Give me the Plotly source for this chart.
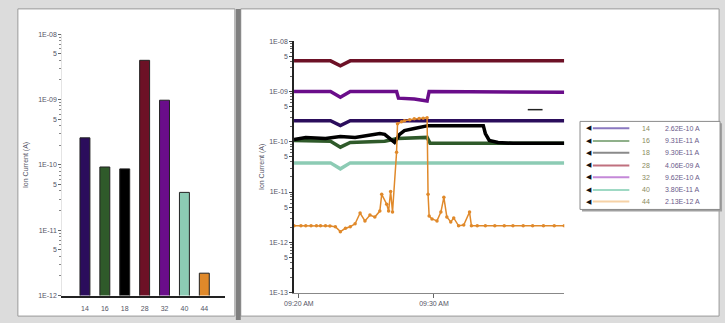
import plotly.graph_objects as go

W, H = 725, 323

# ---------------- data ----------------
masses = ["14", "16", "18", "28", "32", "40", "44"]
bar_values = [2.6e-10, 9.3e-11, 8.7e-11, 4.0e-9, 9.8e-10, 3.8e-11, 2.2e-12]
colors = ["#2b0d5c", "#2f5a2a", "#000000", "#6d1126", "#6a0d8a", "#8ccbb4", "#e0892a"]
legend_colors = ["#8a78c0", "#8fb08a", "#8a8a8a", "#c0707e", "#c488d8", "#9fd9c4", "#f6d2a6"]
legend_values = ["2.62E-10", "9.31E-11", "9.30E-11", "4.06E-09", "9.62E-10", "3.80E-11", "2.13E-12"]

tick_text_x = ["09:20 AM", "09:30 AM"]
tick_vals_x = [0, 10]

# time in minutes relative to 09:20
t14 = [-0.36, 2.34, 3.07, 3.80, 19.64]
v14 = [2.62e-10, 2.62e-10, 2.09e-10, 2.62e-10, 2.62e-10]

t16 = [-0.36, 2.34, 3.07, 3.80, 6.35, 7.30, 9.49, 9.71, 19.64]
v16 = [1.06e-10, 1.02e-10, 7.8e-11, 9.7e-11, 1.02e-10, 1.16e-10, 1.22e-10, 9.3e-11, 9.3e-11]

t18 = [-0.36, 0.51, 1.97, 3.07, 4.16, 5.26, 5.99, 6.35, 6.93, 7.08, 7.45, 7.81, 8.54, 9.56, 13.65, 13.80, 14.09, 14.74, 15.84, 19.64]
v18 = [1.11e-10, 1.22e-10, 1.16e-10, 1.27e-10, 1.22e-10, 1.33e-10, 1.46e-10, 1.40e-10, 1.02e-10, 9.7e-11,
       1.40e-10, 1.67e-10, 1.83e-10, 2.09e-10, 2.09e-10, 1.46e-10, 1.06e-10, 9.7e-11, 9.3e-11, 9.3e-11]

t28 = [-0.36, 2.34, 3.07, 3.80, 19.64]
v28 = [4.06e-9, 4.06e-9, 3.25e-9, 4.06e-9, 4.06e-9]

t32 = [-0.36, 2.34, 3.07, 3.80, 7.23, 7.37, 8.54, 9.49, 9.64, 19.64]
v32 = [1.0e-9, 1.0e-9, 7.7e-10, 1.0e-9, 1.0e-9, 7.36e-10, 7.05e-10, 6.44e-10, 1.0e-9, 9.6e-10]

t40 = [-0.36, 2.34, 3.07, 3.80, 19.64]
v40 = [3.8e-11, 3.8e-11, 2.89e-11, 3.8e-11, 3.8e-11]

t44 = [-0.36, 0.15, 0.51, 0.9, 1.3, 1.6, 1.97, 2.3, 2.70, 3.07, 3.45, 3.80, 4.16, 4.53, 4.89, 5.26, 5.62, 5.99,
       6.13, 6.50, 6.64, 6.79, 6.93, 7.23, 7.30, 7.6, 7.81, 8.2, 8.54, 8.9, 9.2, 9.49, 9.56, 9.64, 9.85, 10.22,
       10.51, 10.73, 10.95, 11.24, 11.46, 11.82, 12.2, 12.63, 12.77, 13.2, 13.8, 14.5, 15.2, 15.84, 16.6, 17.3,
       18.1, 18.9, 19.64]
v44 = [2.13e-12, 2.13e-12, 2.13e-12, 2.13e-12, 2.13e-12, 2.13e-12, 2.13e-12, 2.10e-12, 2.04e-12, 1.63e-12,
       1.9e-12, 2.04e-12, 2.33e-12, 3.82e-12, 2.67e-12, 3.49e-12, 3.19e-12, 4.18e-12,
       9.0e-12, 5.73e-12, 4.18e-12, 1.03e-11, 4.0e-12, 6.2e-11, 2.29e-10, 2.5e-10, 2.62e-10, 2.75e-10, 2.86e-10,
       2.9e-10, 2.95e-10, 3.0e-10, 9.0e-12, 3.34e-12, 2.92e-12, 2.67e-12,
       4.0e-12, 7.85e-12, 3.19e-12, 2.55e-12, 3.05e-12, 2.13e-12, 2.2e-12, 4.0e-12, 2.13e-12, 2.13e-12, 2.13e-12,
       2.13e-12, 2.13e-12, 2.13e-12, 2.13e-12, 2.13e-12, 2.13e-12, 2.13e-12, 2.13e-12]

series_t = [t14, t16, t18, t28, t32, t40, t44]
series_v = [v14, v16, v18, v28, v32, v40, v44]

# ---------------- figure ----------------
fig = go.Figure()

fig.add_trace(go.Bar(
    x=masses, y=bar_values, marker=dict(color=colors, line=dict(color="#222222", width=1)),
    width=0.5, showlegend=False, xaxis="x", yaxis="y",
))

for m, c, t, v in zip(masses, colors, series_t, series_v):
    if m == "44":
        fig.add_trace(go.Scatter(
            x=t, y=v, mode="lines+markers", name=m,
            line=dict(color=c, width=1.5), marker=dict(color=c, size=3.5),
            showlegend=False, xaxis="x2", yaxis="y2"))
    else:
        fig.add_trace(go.Scatter(
            x=t, y=v, mode="lines", name=m,
            line=dict(color=c, width=3.5), showlegend=False, xaxis="x2", yaxis="y2"))


def px_x(p):
    return p / W


def px_y(p):
    return 1 - p / H


def log_ticks(lo, hi):
    vals, txt = [], []
    for e in range(lo, hi + 1):
        vals.append(10.0 ** e)
        txt.append(f"1E-{abs(e):02d}")
        if e < hi:
            vals.append(5 * 10.0 ** e)
            txt.append("5")
    return vals, txt


lv_vals, lv_txt = log_ticks(-12, -8)
rv_vals, rv_txt = log_ticks(-13, -8)

FONT = "Liberation Sans, Arial"
tickfont = dict(family=FONT, size=7, color="#555566")

shapes = [
    # left panel
    dict(type="rect", xref="paper", yref="paper", x0=px_x(8), x1=px_x(228), y0=px_y(319), y1=px_y(5),
         fillcolor="white", line=dict(color="#9a9a9a", width=1), layer="below"),
    # right panel
    dict(type="rect", xref="paper", yref="paper", x0=px_x(234), x1=px_x(719), y0=px_y(319), y1=px_y(5),
         fillcolor="white", line=dict(color="#9a9a9a", width=1), layer="below"),
    # divider
    dict(type="rect", xref="paper", yref="paper", x0=px_x(229), x1=px_x(234), y0=px_y(323), y1=px_y(5),
         fillcolor="#7f7f7f", line=dict(width=0), layer="below"),
    # small dash in the right plot
    dict(type="line", xref="paper", yref="paper", x0=px_x(525), x1=px_x(540), y0=px_y(108), y1=px_y(108),
         line=dict(color="#222222", width=1.5)),
    # legend box shadow + box
    dict(type="rect", xref="paper", yref="paper", x0=px_x(580), x1=px_x(722), y0=px_y(212), y1=px_y(122),
         fillcolor="#a0a0a0", line=dict(width=0)),
    dict(type="rect", xref="paper", yref="paper", x0=px_x(578), x1=px_x(720), y0=px_y(210), y1=px_y(120),
         fillcolor="white", line=dict(color="#8a8a8a", width=1)),
]

annotations = []
legend_y = [127, 140, 152, 165, 177, 190, 202]
for m, lc, lv, yy in zip(masses, legend_colors, legend_values, legend_y):
    shapes.append(dict(type="line", xref="paper", yref="paper", x0=px_x(591), x1=px_x(628),
                       y0=px_y(yy), y1=px_y(yy), line=dict(color=lc, width=2)))
    annotations.append(dict(xref="paper", yref="paper", x=px_x(587), y=px_y(yy), text="◀",
                            showarrow=False, xanchor="center", yanchor="middle",
                            font=dict(family="DejaVu Sans", size=7, color="#111111")))
    annotations.append(dict(xref="paper", yref="paper", x=px_x(645), y=px_y(yy), text=m,
                            showarrow=False, xanchor="center", yanchor="middle",
                            font=dict(family=FONT, size=7, color="#8a8a60")))
    annotations.append(dict(xref="paper", yref="paper", x=px_x(662), y=px_y(yy), text=f"{lv} A",
                            showarrow=False, xanchor="left", yanchor="middle",
                            font=dict(family=FONT, size=7, color="#6a5a8a")))

fig.update_layout(
    width=W, height=H,
    margin=dict(l=0, r=0, t=0, b=0),
    paper_bgcolor="#dcdcdc", plot_bgcolor="rgba(0,0,0,0)",
    shapes=shapes,
    annotations=annotations,
    showlegend=False,
    xaxis=dict(domain=[px_x(53), px_x(218)], type="category", range=[-1.14, 7.04],
               showline=True, linecolor="#222222", linewidth=1.5,
               ticks="outside", ticklen=5, tickcolor="rgba(0,0,0,0)", tickfont=tickfont,
               showgrid=False, zeroline=False, anchor="y"),
    yaxis=dict(domain=[px_y(298), px_y(31)], type="log", range=[-12, -8],
               tickvals=lv_vals, ticktext=lv_txt, tickfont=tickfont,
               ticks="outside", ticklen=3, tickcolor="#666666",
               minor=dict(ticks="outside", ticklen=2, tickcolor="#888888", dtick="D1"),
               showline=True, linecolor="#e4e4e4", showgrid=False, zeroline=False,
               title=dict(text="Ion Current (A)", font=dict(family=FONT, size=7, color="#555566"),
                          standoff=8),
               anchor="x"),
    xaxis2=dict(domain=[px_x(288), px_x(562)], range=[-0.36, 19.64],
                tickvals=tick_vals_x, ticktext=tick_text_x, tickfont=tickfont,
                ticks="outside", ticklen=4, tickcolor="#666666",
                showline=True, linecolor="#888888", linewidth=1, showgrid=False, zeroline=False,
                anchor="y2"),
    yaxis2=dict(domain=[px_y(295), px_y(38)], type="log", range=[-13, -8],
                tickvals=rv_vals, ticktext=rv_txt, tickfont=tickfont,
                ticks="outside", ticklen=3, tickcolor="#444444",
                minor=dict(ticks="outside", ticklen=2, tickcolor="#666666", dtick="D1"),
                showline=True, linecolor="#222222", linewidth=1.5, showgrid=False, zeroline=False,
                title=dict(text="Ion Current (A)", font=dict(family=FONT, size=7, color="#555566"),
                           standoff=4),
                anchor="x2"),
)

fig.write_html("out.html")
